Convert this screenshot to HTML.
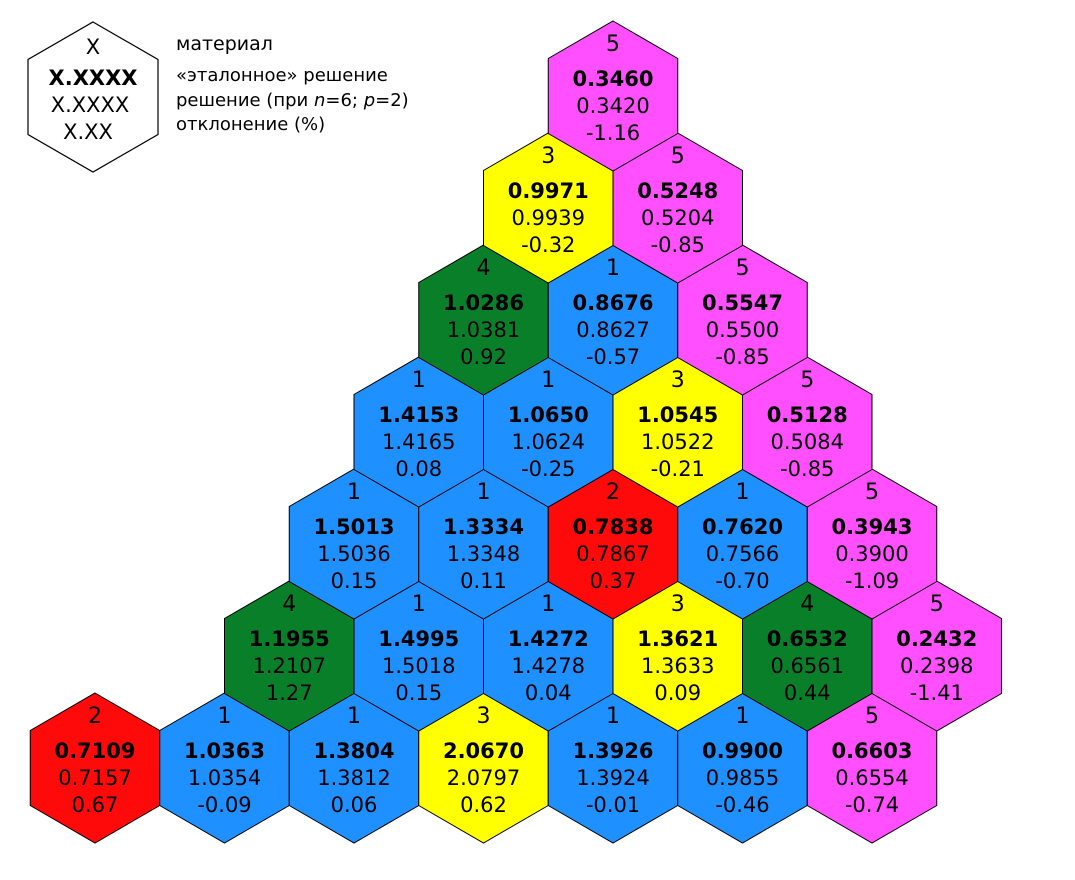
<!DOCTYPE html>
<html><head><meta charset="utf-8">
<style>
html,body{margin:0;padding:0;background:#fff;}
svg{display:block;font-family:"DejaVu Sans","Liberation Sans",sans-serif;}
</style></head>
<body>
<svg id="chart" width="1075" height="880" viewBox="0 0 1075 880" xmlns="http://www.w3.org/2000/svg">
<g>
  <polygon points="93,22 158,59.5 158,134.5 93,172 28,134.5 28,59.5" fill="#fff" stroke="#000" stroke-width="1.2"/>
  <text x="93" y="54" font-size="21" text-anchor="middle">X</text>
  <text x="93" y="85" font-size="21" font-weight="bold" text-anchor="middle">X.XXXX</text>
  <text x="90" y="112" font-size="21" text-anchor="middle">X.XXXX</text>
  <text x="88" y="139" font-size="21" text-anchor="middle">X.XX</text>
  <text x="176" y="50" font-size="19">материал</text>
  <text x="176" y="81" font-size="18">«эталонное» решение</text>
  <text x="176" y="106" font-size="18">решение (при <tspan font-style="italic">n</tspan>=6; <tspan font-style="italic">p</tspan>=2)</text>
  <text x="176" y="130" font-size="18">отклонение (%)</text>
</g>
<g id="hexes"></g>
</svg>
<script>
const rows = [0,0,0,0,0,0,0, 1,1,1,1,1,1, 2,2,2,2,2, 3,3,3,3, 4,4,4, 5,5, 6];
const cols = [0,1,2,3,4,5,6, 0,1,2,3,4,5, 0,1,2,3,4, 0,1,2,3, 0,1,2, 0,1, 0];
const materials = [2,1,1,3,1,1,5, 4,1,1,3,4,5, 1,1,2,1,5, 1,1,3,5, 4,1,5, 3,5, 5];
const refValues = ["0.7109","1.0363","1.3804","2.0670","1.3926","0.9900","0.6603",
  "1.1955","1.4995","1.4272","1.3621","0.6532","0.2432",
  "1.5013","1.3334","0.7838","0.7620","0.3943",
  "1.4153","1.0650","1.0545","0.5128",
  "1.0286","0.8676","0.5547",
  "0.9971","0.5248",
  "0.3460"];
const solValues = ["0.7157","1.0354","1.3812","2.0797","1.3924","0.9855","0.6554",
  "1.2107","1.5018","1.4278","1.3633","0.6561","0.2398",
  "1.5036","1.3348","0.7867","0.7566","0.3900",
  "1.4165","1.0624","1.0522","0.5084",
  "1.0381","0.8627","0.5500",
  "0.9939","0.5204",
  "0.3420"];
const devValues = ["0.67","-0.09","0.06","0.62","-0.01","-0.46","-0.74",
  "1.27","0.15","0.04","0.09","0.44","-1.41",
  "0.15","0.11","0.37","-0.70","-1.09",
  "0.08","-0.25","-0.21","-0.85",
  "0.92","-0.57","-0.85",
  "-0.32","-0.85",
  "-1.16"];
const matColors = {1:"#1e90ff",2:"#ff0a0a",3:"#ffff00",4:"#0a7f2a",5:"#ff4fff"};
const NS = "http://www.w3.org/2000/svg";
const W = 129.5, H = 150, Y0 = 768, DY = 112;
function xPos(r,c){ return (r===0 ? 95 : 95 + 1.5*W + (r-1)*W/2) + c*W; }
function yPos(r){ return Y0 - r*DY; }
const g = document.getElementById("hexes");
for (let i=0;i<rows.length;i++){
  const cx = xPos(rows[i],cols[i]), cy = yPos(rows[i]);
  const grp = document.createElementNS(NS,"g");
  
  
  const p = document.createElementNS(NS,"polygon");
  const pts = [[0,-H/2],[W/2,-H/4],[W/2,H/4],[0,H/2],[-W/2,H/4],[-W/2,-H/4]].map(q=>(cx+q[0])+","+(cy+q[1])).join(" ");
  p.setAttribute("points",pts);
  p.setAttribute("fill",matColors[materials[i]]);
  p.setAttribute("stroke","#000");
  p.setAttribute("stroke-width","1");
  
  
  grp.appendChild(p);
  const lines = [[String(materials[i]),-45,"normal",22],[refValues[i],-10,"bold",21],[solValues[i],17,"normal",21],[devValues[i],44,"normal",21]];
  const names = ["material-label","reference-value","solution-value","deviation-value"];
  lines.forEach((l,k)=>{
    const t = document.createElementNS(NS,"text");
    t.setAttribute("x",cx);
    t.setAttribute("y",cy+l[1]);
    t.setAttribute("text-anchor","middle");
    t.setAttribute("font-size",l[3]);
    t.setAttribute("font-weight",l[2]);
    
    
    t.textContent = l[0];
    grp.appendChild(t);
  });
  g.appendChild(grp);
}
</script>
</body></html>
